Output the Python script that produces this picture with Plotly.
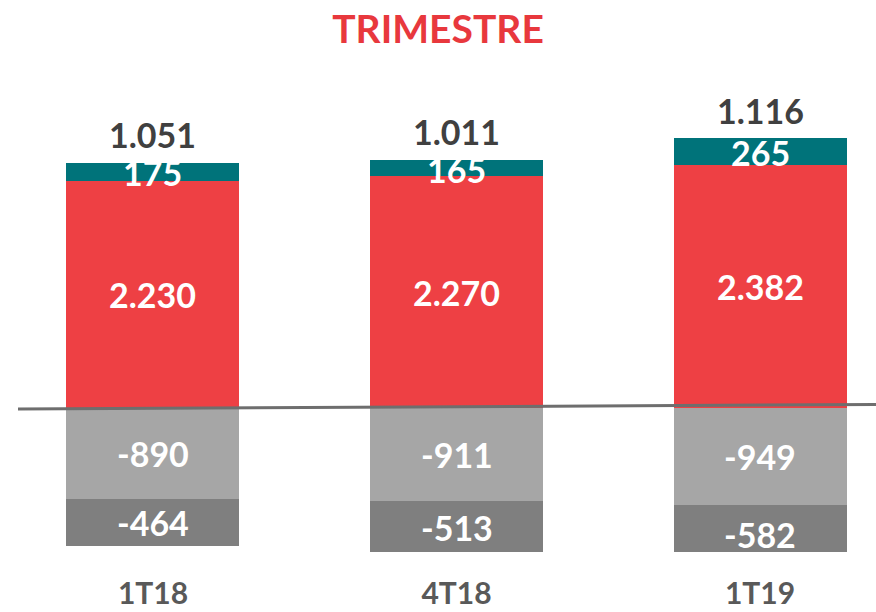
import plotly.graph_objects as go

categories = ["1T18", "4T18", "1T19"]
red_vals = [2230, 2270, 2382]
teal_vals = [175, 165, 265]
lgray_vals = [-890, -911, -949]
dgray_vals = [-464, -513, -582]

RED = "#EE4044"
TEAL = "#00737A"
LGRAY = "#A6A6A6"
DGRAY = "#7F7F7F"
FONT = "Lato"


def fmt(v):
    return f"{v:,}".replace(",", ".")


xs = list(range(len(categories)))
W = 0.57

fig = go.Figure()
for vals, col in [(red_vals, RED), (teal_vals, TEAL), (lgray_vals, LGRAY), (dgray_vals, DGRAY)]:
    fig.add_trace(go.Bar(x=xs, y=vals, width=W, marker=dict(color=col, line=dict(width=0)),
                         hoverinfo="skip", showlegend=False))

ann = []
lab_font = dict(family=FONT, size=34, color="white", weight=700)
for i in xs:
    r, t, lg, dg = red_vals[i], teal_vals[i], lgray_vals[i], dgray_vals[i]
    ann.append(dict(x=i, y=r / 2, text=fmt(r), font=lab_font))
    ann.append(dict(x=i, y=r + t / 2, text=fmt(t), font=lab_font, yshift=-1))
    ann.append(dict(x=i, y=lg / 2, text=fmt(lg), font=lab_font))
    ann.append(dict(x=i, y=lg + dg / 2, text=fmt(dg), font=lab_font))
    total = r + t + lg + dg
    ann.append(dict(x=i, y=r + t, text=fmt(total), yshift=28,
                    font=dict(family=FONT, size=34, color="#404040", weight=700)))
for a in ann:
    a.update(xref="x", yref="y", showarrow=False, xanchor="center", yanchor="middle")

fig.update_layout(
    width=876, height=612,
    margin=dict(l=0, r=0, t=100, b=60, autoexpand=False),
    paper_bgcolor="white", plot_bgcolor="white",
    barmode="relative", bargap=0,
    title=dict(text="TRIMESTRE", x=0.5, xanchor="center", y=1 - 29 / 612, yanchor="middle",
               font=dict(family=FONT, size=39, color="#E8383D", weight=700)),
    xaxis=dict(range=[-0.504, 2.382], tickvals=xs, ticktext=categories, showgrid=False,
               zeroline=False, showline=False, ticks="", ticklabelstandoff=21, automargin=False,
               tickfont=dict(family=FONT, size=30, color="#595959", weight=700)),
    yaxis=dict(range=[-1412, 3020], visible=False, showgrid=False, zeroline=False,
               automargin=False),
    annotations=ann,
    shapes=[dict(type="line", xref="paper", yref="y", x0=18 / 876, x1=1, y0=-10, y1=35,
                 line=dict(color="#6E6E6E", width=3), layer="above")],
)

fig.write_html("out.html", config={"displayModeBar": False},
               post_script="document.body.style.margin='0';document.body.style.overflow='hidden';")
